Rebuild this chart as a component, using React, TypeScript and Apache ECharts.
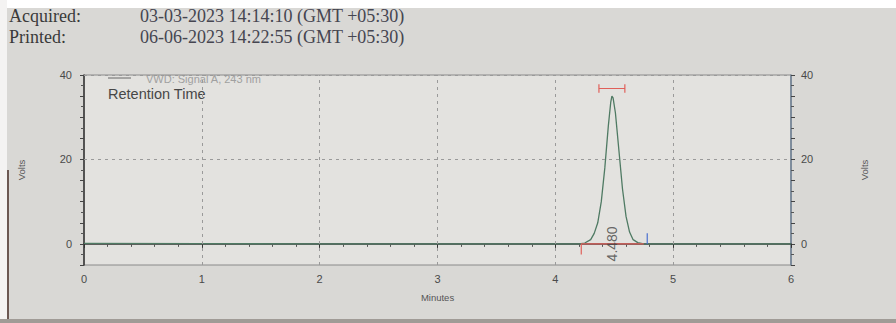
import React, { useEffect, useRef } from "react";
import * as echarts from "echarts";

// ---- data ----
const acquired = "03-03-2023 14:14:10 (GMT +05:30)";
const printed = "06-06-2023 14:22:55 (GMT +05:30)";
const xTicks = [0, 1, 2, 3, 4, 5, 6];
const yLabelValues = [0, 20, 40];
const legendName = "VWD: Signal A, 243 nm";
const legendSub = "Retention Time";
const peakLabel = "4.480";
const peakRT = 4.48;

// chromatogram trace (minutes, volts)
const traceX = [0, 1, 2, 3, 4, 4.2, 4.25, 4.3, 4.33, 4.36, 4.39, 4.42, 4.45, 4.47, 4.48, 4.49, 4.51, 4.54, 4.57, 4.6, 4.63, 4.66, 4.7, 4.75, 5, 6];
const traceY = [0.1, 0.05, 0, 0, 0, 0, 0.2, 1, 2.5, 5, 10, 18, 28, 33.5, 35, 34.6, 31, 22, 13, 6.5, 2.8, 1, 0.3, 0, 0, 0];

// integration marks
const baselineMarkX = [4.22, 4.22, 4.75];
const baselineMarkY = [-2.5, 0, 0];
const peakEndX = [4.78, 4.78];
const peakEndY = [0, 2.5];
const widthBarX = [4.37, 4.37, 4.37, 4.59, 4.59, 4.59];
const widthBarY = [35.8, 37.8, 36.8, 36.8, 35.8, 37.8];

const gridX = [1, 2, 3, 4, 5];
const gridY = [20, 40];

const zip = (a: number[], b: number[]) => a.map((v, i) => [v, b[i]]);

export default function App() {
  const ref = useRef<HTMLDivElement>(null);
  useEffect(() => {
    if (!ref.current) return;
    const chart = echarts.init(ref.current, null, { renderer: "svg" });
    const axisFont = "Liberation Sans";
    const yAxisCommon = {
      type: "value" as const,
      min: -5,
      max: 40,
      interval: 5,
      splitLine: { show: false },
      axisLabel: {
        formatter: (v: number) => (yLabelValues.includes(v) ? String(v) : ""),
        color: "#4a4a4a",
        fontFamily: axisFont,
        fontSize: 11,
      },
      axisTick: { show: true, length: 4, lineStyle: { color: "#444" } },
      minorTick: { show: true, splitNumber: 2, length: 3, lineStyle: { color: "#555" } },
      nameLocation: "middle" as const,
      nameRotate: 90,
      nameTextStyle: { fontFamily: axisFont, fontSize: 9.5, color: "#555" },
    };
    const serif = "18px 'Liberation Serif'";
    chart.setOption({
      animation: false,
      backgroundColor: "#d9d8d5",
      grid: {
        left: 84,
        right: 105,
        top: 75,
        bottom: 58,
        show: true,
        backgroundColor: "#e3e2df",
        borderColor: "#8a8a8a",
        borderWidth: 1,
      },
      xAxis: {
        type: "value",
        min: 0,
        max: 6,
        interval: 1,
        name: "Minutes",
        nameLocation: "middle",
        nameGap: 27,
        nameTextStyle: { fontFamily: axisFont, fontSize: 9.5, color: "#555" },
        axisLine: { lineStyle: { color: "#333", width: 1.5 } },
        axisTick: { length: 4, lineStyle: { color: "#333" } },
        minorTick: { show: true, splitNumber: 5, length: 3, lineStyle: { color: "#555" } },
        axisLabel: {
          color: "#4a4a4a",
          fontFamily: axisFont,
          fontSize: 11,
          formatter: (v: number) => (xTicks.includes(v) ? String(v) : ""),
        },
        splitLine: { show: false },
      },
      yAxis: [
        {
          ...yAxisCommon,
          position: "left",
          name: "Volts",
          nameGap: 58,
          axisLine: { show: true, lineStyle: { color: "#333", width: 1.5 } },
          axisLabel: { ...yAxisCommon.axisLabel, margin: 12 },
        },
        {
          ...yAxisCommon,
          position: "right",
          name: "Volts",
          nameGap: 68,
          axisLine: { show: true, lineStyle: { color: "#6d7f95", width: 1.5 } },
          axisLabel: { ...yAxisCommon.axisLabel, margin: 10 },
        },
      ],
      graphic: [
        { type: "rect", shape: { x: 0, y: 0, width: 896, height: 8 }, style: { fill: "#ffffff" }, z: 100 },
        { type: "rect", shape: { x: 0, y: 0, width: 7, height: 323 }, style: { fill: "#f4f3f2" }, z: 100 },
        { type: "rect", shape: { x: 7, y: 170, width: 2, height: 153 }, style: { fill: "#6b5852" }, z: 100 },
        { type: "rect", shape: { x: 0, y: 319, width: 896, height: 4 }, style: { fill: "#a09b96" }, z: 100 },
        {
          type: "text",
          x: 9,
          y: 16,
          style: { text: "Acquired:", font: serif, fill: "#3a3a3a", verticalAlign: "middle" },
        },
        {
          type: "text",
          x: 140,
          y: 16,
          style: { text: acquired, font: serif, fill: "#454550", verticalAlign: "middle" },
        },
        {
          type: "text",
          x: 9,
          y: 37,
          style: { text: "Printed:", font: serif, fill: "#3a3a3a", verticalAlign: "middle" },
        },
        {
          type: "text",
          x: 140,
          y: 37,
          style: { text: printed, font: serif, fill: "#454550", verticalAlign: "middle" },
        },
        { type: "line", shape: { x1: 108, y1: 78, x2: 131, y2: 78 }, style: { stroke: "#666", lineWidth: 1 } },
        {
          type: "text",
          x: 146,
          y: 79,
          style: { text: legendName, font: "11px 'Liberation Sans'", fill: "#a0a0a0", verticalAlign: "middle" },
        },
        {
          type: "text",
          x: 108,
          y: 94,
          style: { text: legendSub, font: "14.5px 'Liberation Sans'", fill: "#474747", verticalAlign: "middle" },
        },
      ],
      series: [
        {
          type: "line",
          data: zip(traceX, traceY),
          showSymbol: false,
          symbol: "none",
          lineStyle: { color: "#4f7a63", width: 1.3 },
          z: 3,
          markLine: {
            silent: true,
            symbol: "none",
            label: { show: false },
            lineStyle: { color: "#9a9a9a", type: [3, 4], width: 1 },
            data: [
              ...gridX.map((v) => ({ xAxis: v })),
              ...gridY.map((v) => ({ yAxis: v })),
            ],
          },
        },
        {
          type: "line",
          data: zip(baselineMarkX, baselineMarkY),
          symbol: "none",
          lineStyle: { color: "#e0605a", width: 1.2 },
          z: 4,
        },
        {
          type: "line",
          data: zip(peakEndX, peakEndY),
          symbol: "none",
          lineStyle: { color: "#4a6fd0", width: 1.2 },
          z: 4,
        },
        {
          type: "line",
          data: zip(widthBarX, widthBarY),
          symbol: "none",
          lineStyle: { color: "#e0605a", width: 1.2 },
          z: 4,
        },
        {
          type: "scatter",
          data: [[peakRT, 0]],
          symbolSize: 0,
          label: {
            show: true,
            formatter: peakLabel,
            rotate: 90,
            position: "inside",
            fontFamily: "Liberation Sans",
            fontSize: 14,
            color: "#444",
          },
          z: 5,
        },
      ],
    });
    return () => chart.dispose();
  }, []);
  return <div ref={ref} style={{ position: "absolute", left: 0, top: 0, width: 896, height: 323 }} />;
}
